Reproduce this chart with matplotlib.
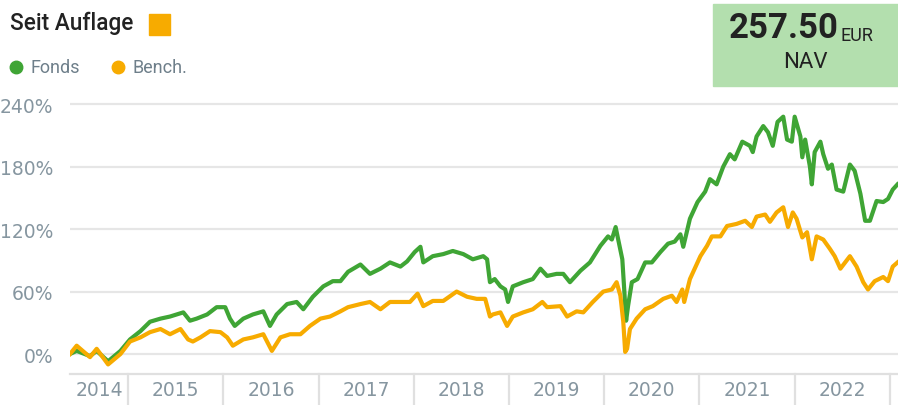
import matplotlib
matplotlib.use("Agg")
import matplotlib.pyplot as plt
from matplotlib.patches import Rectangle
from matplotlib.lines import Line2D
from matplotlib.transforms import blended_transform_factory

# decimal years and performance in %
fonds_t = [2014.39, 2014.46, 2014.60, 2014.67, 2014.79, 2014.92, 2015.02, 2015.13, 2015.23, 2015.34,
           2015.44, 2015.58, 2015.65, 2015.72, 2015.83, 2015.93, 2016.02, 2016.07, 2016.12, 2016.21,
           2016.31, 2016.42, 2016.49, 2016.56, 2016.67, 2016.77, 2016.84, 2016.94, 2017.05, 2017.15,
           2017.23, 2017.31, 2017.44, 2017.54, 2017.65, 2017.75, 2017.86, 2017.93, 2018.01, 2018.07,
           2018.10, 2018.20, 2018.31, 2018.41, 2018.52, 2018.62, 2018.73, 2018.77, 2018.80, 2018.85,
           2018.91, 2018.96, 2018.99, 2019.04, 2019.15, 2019.25, 2019.33, 2019.40, 2019.50, 2019.57,
           2019.64, 2019.75, 2019.85, 2019.96, 2020.04, 2020.08, 2020.12, 2020.14, 2020.19, 2020.21,
           2020.23, 2020.25, 2020.29, 2020.35, 2020.43, 2020.50, 2020.59, 2020.67, 2020.74, 2020.80,
           2020.83, 2020.90, 2020.98, 2021.06, 2021.11, 2021.18, 2021.25, 2021.32, 2021.37, 2021.45,
           2021.53, 2021.56, 2021.60, 2021.67, 2021.72, 2021.77, 2021.82, 2021.88, 2021.92, 2021.97,
           2022.00, 2022.06, 2022.08, 2022.11, 2022.16, 2022.18, 2022.21, 2022.27, 2022.30, 2022.35,
           2022.39, 2022.44, 2022.51, 2022.58, 2022.63, 2022.69, 2022.74, 2022.79, 2022.86, 2022.93,
           2022.98, 2023.03, 2023.08]
fonds = [0, 3, -2, 3, -7, 3, 14, 22, 31, 34,
         36, 40, 32, 34, 38, 45, 45, 34, 27, 34,
         38, 41, 27, 38, 48, 50, 43, 55, 65, 70,
         70, 79, 86, 77, 82, 88, 84, 89, 98, 103,
         88, 94, 96, 99, 96, 91, 94, 91, 69, 72,
         65, 62, 50, 65, 69, 72, 82, 75, 77, 77,
         69, 80, 88, 104, 113, 110, 122, 113, 91, 62,
         32, 46, 69, 72, 88, 88, 98, 106, 108, 115,
         103, 130, 146, 156, 168, 163, 180, 192, 187, 204,
         200, 194, 209, 219, 213, 200, 223, 228, 206, 204,
         228, 209, 189, 206, 180, 163, 194, 204, 192, 178,
         182, 158, 156, 182, 176, 154, 128, 128, 147, 146,
         149, 158, 163]

bench_t = [2014.39, 2014.46, 2014.60, 2014.67, 2014.79, 2014.92, 2015.02, 2015.13, 2015.23, 2015.34,
           2015.44, 2015.55, 2015.63, 2015.68, 2015.76, 2015.86, 2015.97, 2016.04, 2016.10, 2016.21,
           2016.31, 2016.42, 2016.51, 2016.60, 2016.70, 2016.81, 2016.91, 2017.02, 2017.12, 2017.23,
           2017.31, 2017.44, 2017.54, 2017.65, 2017.75, 2017.86, 2017.96, 2018.04, 2018.10, 2018.20,
           2018.31, 2018.45, 2018.56, 2018.66, 2018.75, 2018.80, 2018.83, 2018.91, 2018.98, 2019.04,
           2019.15, 2019.25, 2019.35, 2019.40, 2019.54, 2019.61, 2019.71, 2019.78, 2019.88, 2019.99,
           2020.08, 2020.13, 2020.17, 2020.20, 2020.22, 2020.24, 2020.27, 2020.34, 2020.43, 2020.51,
           2020.62, 2020.71, 2020.76, 2020.82, 2020.84, 2020.90, 2021.01, 2021.08, 2021.13, 2021.22,
           2021.29, 2021.39, 2021.48, 2021.55, 2021.60, 2021.69, 2021.74, 2021.81, 2021.88, 2021.93,
           2021.98, 2022.02, 2022.08, 2022.13, 2022.18, 2022.23, 2022.30, 2022.37, 2022.42, 2022.48,
           2022.53, 2022.58, 2022.65, 2022.72, 2022.77, 2022.84, 2022.93, 2022.98, 2023.03, 2023.08]
bench = [0, 8, -3, 5, -10, 0, 12, 16, 21, 24,
         19, 24, 14, 12, 16, 22, 21, 16, 8, 14,
         16, 19, 3, 16, 19, 19, 27, 34, 36, 41,
         45, 48, 50, 43, 50, 50, 50, 58, 46, 51,
         51, 60, 55, 53, 53, 36, 38, 40, 27, 36,
         40, 43, 50, 45, 46, 36, 41, 40, 50, 60,
         62, 69, 56, 31, 2, 5, 24, 34, 43, 46,
         53, 56, 50, 62, 50, 72, 94, 104, 113, 113,
         123, 125, 128, 122, 132, 134, 127, 136, 141, 122,
         136, 130, 112, 117, 91, 113, 110, 101, 94, 82,
         88, 94, 84, 69, 62, 70, 74, 70, 84, 88]

years = [2014, 2015, 2016, 2017, 2018, 2019, 2020, 2021, 2022]
y_ticks = [0, 60, 120, 180, 240]

green = '#3fa535'
orange = '#f7ab00'
grey_txt = '#8696a0'
grid_col = '#e6e6e6'

W, H = 898, 406
fig = plt.figure(figsize=(W / 100, H / 100), dpi=100)

def fx(px):
    return px / W

def fy(py):
    return 1 - py / H

x0, x1 = 2014.39, 2023.085
ax = fig.add_axes([fx(70), fy(375), fx(898) - fx(70), fy(100) - fy(375)])
ax.set_xlim(x0, x1)
ax.set_ylim(-19.2, 245)

ax.plot(fonds_t, fonds, color=green, lw=3, solid_joinstyle='round', zorder=3)
ax.plot(bench_t, bench, color=orange, lw=3, solid_joinstyle='round', zorder=4)

ax.set_yticks(y_ticks)
ax.set_yticklabels([f'{v}%' for v in y_ticks])
ax.yaxis.grid(True, color=grid_col, lw=1.6)
ax.set_axisbelow(True)
ax.tick_params(axis='y', length=0, pad=12, labelsize=13.5, labelcolor=grey_txt)
ax.set_xticks([])
for s in ['top', 'right', 'left']:
    ax.spines[s].set_visible(False)
ax.spines['bottom'].set_color('#e0e0e0')
ax.spines['bottom'].set_linewidth(1.6)

# year separators and labels below the axis
tr = blended_transform_factory(ax.transData, ax.transAxes)
for yr in years[1:] + [2023]:
    ax.plot([yr, yr], [0, -0.12], transform=tr, color='#e0e0e0', lw=1.6, clip_on=False)
for yr in years:
    lo = max(yr, x0)
    ax.text((lo + yr + 1) / 2, -0.058, str(yr), transform=tr, ha='center', va='center',
            fontsize=13.5, color=grey_txt)

# header
fig.text(fx(10), fy(23), 'Seit Auflage', fontsize=16.3, family='Roboto', fontweight='medium',
         color='#222222', va='center', ha='left')
fig.patches.append(Rectangle((fx(149), fy(36)), fx(21), fy(15) - fy(36), transform=fig.transFigure,
                             color=orange, zorder=2))
fig.add_artist(Line2D([fx(16)], [fy(68)], marker='o', ms=9, color=green, transform=fig.transFigure))
fig.text(fx(30), fy(68), 'Fonds', fontsize=13, family='Roboto', color='#6e7f8a', va='center', ha='left')
fig.add_artist(Line2D([fx(118)], [fy(68)], marker='o', ms=9, color=orange, transform=fig.transFigure))
fig.text(fx(132), fy(68), 'Bench.', fontsize=13, family='Roboto', color='#6e7f8a', va='center', ha='left')

# NAV box
fig.patches.append(Rectangle((fx(713), fy(87)), fx(185), fy(5) - fy(87), transform=fig.transFigure,
                             color='#b3dfae', zorder=1))
fig.text(fx(839), fy(29), '257.50', fontsize=25, family='Roboto', fontweight='bold', color='#222222',
         ha='right', va='center', zorder=3)
fig.text(fx(840), fy(36), 'EUR', fontsize=13, family='Roboto', color='#222222', ha='left', va='center', zorder=3)
fig.text(fx(805), fy(62), 'NAV', fontsize=16, family='Roboto', color='#222222', ha='center', va='center', zorder=3)

fig.savefig('out.png', dpi=100)
